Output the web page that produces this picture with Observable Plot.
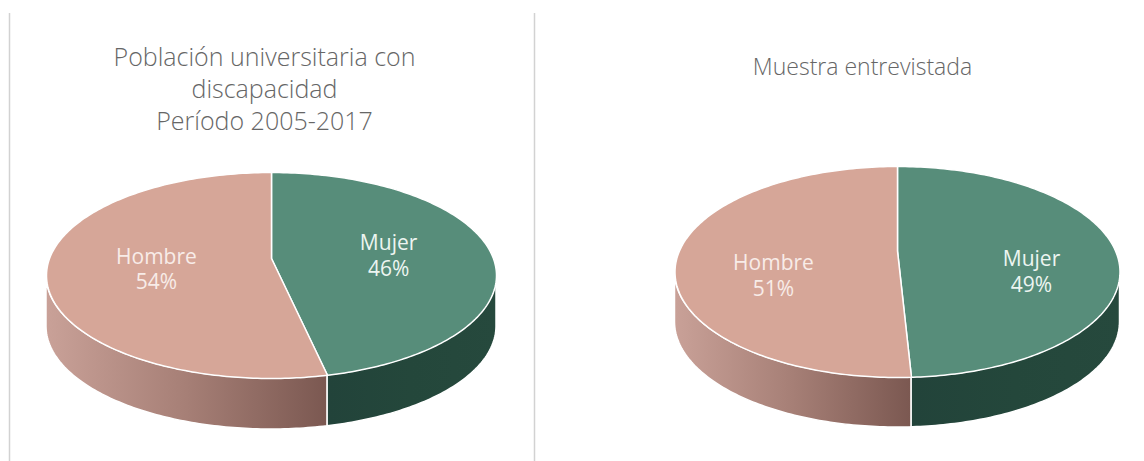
<!DOCTYPE html>
<html>
<head>
<meta charset="utf-8">
<script src="https://cdn.jsdelivr.net/npm/d3@7"></script>
<script src="https://cdn.jsdelivr.net/npm/@observablehq/plot@0.6"></script>
<style>
  body { margin: 0; background: #fff; }
  svg { display: block; }
</style>
</head>
<body>
<div id="chart"></div>
<script>
// ---- data ----
const chartTitles = ["Población universitaria con\ndiscapacidad\nPeríodo 2005-2017", "Muestra entrevistada"];
const categories = ["Mujer", "Hombre"];
const sharesPoblacion = [46, 54];
const sharesMuestra = [49, 51];

// ---- styling / layout ----
const topColors = {Mujer: "#578d7a", Hombre: "#d6a698"};
const sideGradients = {
  Mujer: ["#22433a", "#24473b", "#26493d"],
  Hombre: ["#c9a198", "#a67f76", "#7b5851"]
};
const layouts = [
  {cx: 271, cy: 275, rx: 225, ry: 103, depth: 51, hub: 17, labelF: 0.52, labelDx: 1, labelDy: -14, titleX: 264, titleY: 43, titleSize: 25, titleLH: 1.27},
  {cx: 897, cy: 271.5, rx: 222.5, ry: 105.5, depth: 50, hub: 21, labelF: 0.58, labelDx: 5, labelDy: 1, titleX: 862, titleY: 53, titleSize: 23, titleLH: 1.3}
];
const W = 1144, H = 461;
const font = "'Open Sans', Lato, sans-serif";

const rad = d => d * Math.PI / 180;
function rim(L, a) { return {x: L.cx + L.rx * Math.sin(rad(a)), y: L.cy - L.ry * Math.cos(rad(a))}; }

const sets = [sharesPoblacion, sharesMuestra];
const marks = [];

// gradient defs
marks.push(() => {
  const defs = d3.create("svg:defs");
  for (const cat of categories) {
    const g = defs.append("linearGradient").attr("id", "side-" + cat).attr("x1", 0).attr("x2", 1).attr("y1", 0).attr("y2", 0);
    sideGradients[cat].forEach((c, i, arr) => g.append("stop").attr("offset", i / (arr.length - 1)).attr("stop-color", c));
  }
  return defs.node();
});

sets.forEach((shares, ci) => {
  const L = layouts[ci];
  let start = 0;
  const slices = categories.map((cat, i) => {
    const a0 = start, a1 = start + shares[i] * 3.6;
    start = a1;
    return {cat, value: shares[i], a0, a1};
  });
  // sides (visible front half: 90..270 deg)
  for (const s of slices) {
    const b0 = Math.max(s.a0, 90), b1 = Math.min(s.a1, 270);
    if (b1 <= b0) continue;
    const pts = [];
    for (let a = b0; ; a = Math.min(a + 1, b1)) {
      const p = rim(L, a);
      pts.push({x: p.x, y1: p.y, y2: p.y + L.depth});
      if (a >= b1) break;
    }
    marks.push(Plot.areaY(pts, {x: "x", y1: "y1", y2: "y2", fill: `url(#side-${s.cat})`, stroke: "white", strokeWidth: 1.5, curve: "linear"}));
  }
  // tops
  for (const s of slices) {
    const pts = [{x: L.cx, y: L.cy - L.hub}];
    for (let a = s.a0; ; a = Math.min(a + 1, s.a1)) {
      pts.push(rim(L, a));
      if (a >= s.a1) break;
    }
    marks.push(Plot.line(pts, {x: "x", y: "y", fill: topColors[s.cat], stroke: "white", strokeWidth: 1.5, curve: "linear-closed", strokeLinejoin: "round"}));
  }
  // labels
  const labels = slices.map(s => {
    const m = (s.a0 + s.a1) / 2;
    return {
      x: L.cx + L.rx * Math.sin(rad(m)) * L.labelF + L.labelDx,
      y: L.cy - L.ry * Math.cos(rad(m)) * L.labelF + L.labelDy,
      text: `${s.cat}\n${s.value}%`,
      cat: s.cat
    };
  });
  marks.push(Plot.text(labels, {x: "x", y: "y", text: "text", fill: d => d.cat === "Hombre" ? "#f8ece8" : "#edf5f1", fontSize: 21, lineHeight: 1.22, fontFamily: font, lineAnchor: "middle"}));
  // title
  marks.push(Plot.text([chartTitles[ci]], {x: () => L.titleX, y: () => L.titleY, text: d => d, fontSize: L.titleSize, lineHeight: L.titleLH, fontFamily: font, fontWeight: 300, fill: "#666666", lineAnchor: "top"}));
});

// panel dividers
marks.push(Plot.ruleX([9, 534], {x: d => d, y1: () => 13, y2: () => H, stroke: "#d2d2d2", strokeWidth: 1.5}));

const chart = Plot.plot({
  width: W, height: H,
  margin: 0,
  x: {domain: [0, W], range: [0, W], axis: null},
  y: {domain: [0, H], range: [0, H], axis: null},
  style: {background: "#fff"},
  marks
});
document.getElementById("chart").append(chart);
</script>
</body>
</html>
